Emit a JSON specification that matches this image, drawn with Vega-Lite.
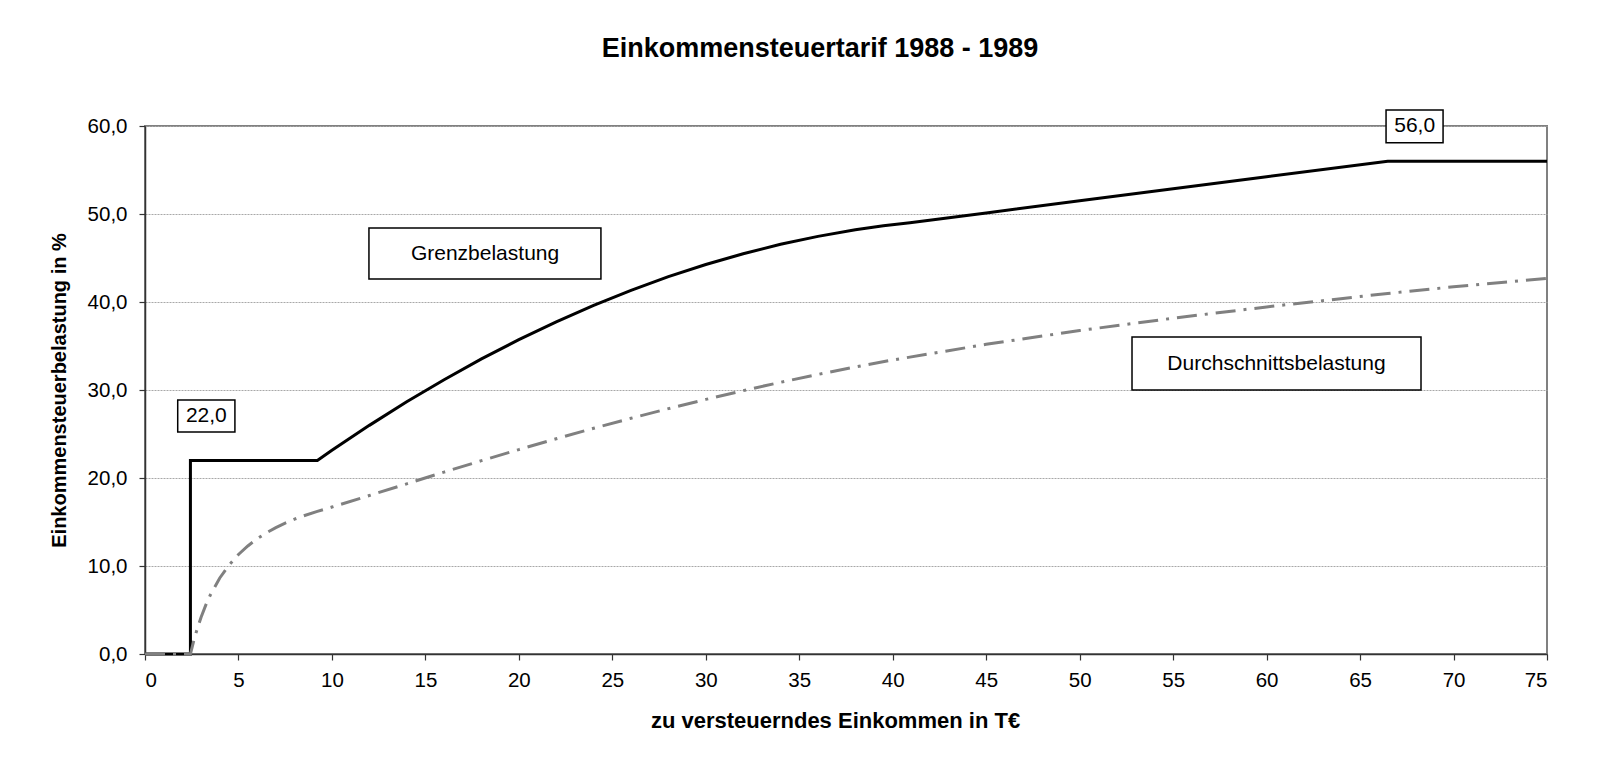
{
  "$schema": "https://vega.github.io/schema/vega-lite/v6.json",
  "autosize": {"type": "none"},
  "padding": {"left": 145, "top": 126, "right": 61, "bottom": 115},
  "width": 1402,
  "height": 528,
  "background": "white",
  "title": {
    "text": "Einkommensteuertarif 1988 - 1989",
    "font": "Liberation Sans",
    "fontSize": 27,
    "fontWeight": "bold",
    "color": "black",
    "anchor": "middle",
    "offset": 46,
    "dx": -26
  },
  "config": {
    "font": "Liberation Sans",
    "locale": {"number": {"decimal": ",", "thousands": ".", "grouping": [3], "currency": ["", " €"]}},
    "view": {"stroke": "#808080", "strokeWidth": 2},
    "axis": {
      "labelFont": "Liberation Sans",
      "labelFontSize": 20.5,
      "labelColor": "black",
      "titleFont": "Liberation Sans",
      "titleFontSize": 21,
      "titleFontWeight": "bold",
      "titleColor": "black",
      "domainColor": "#333333",
      "domainWidth": 1.5,
      "tickColor": "#333333",
      "tickSize": 6,
      "tickWidth": 1.2
    }
  },
  "datasets": {
    "kurven": [
      {"reihe": "Grenzbelastung", "i": 1, "einkommen": 0, "satz": 0},
      {"reihe": "Grenzbelastung", "i": 2, "einkommen": 2.43, "satz": 0},
      {"reihe": "Grenzbelastung", "i": 3, "einkommen": 2.43, "satz": 22.0},
      {"reihe": "Grenzbelastung", "i": 4, "einkommen": 9.22, "satz": 22.0},
      {"reihe": "Grenzbelastung", "i": 5, "einkommen": 10, "satz": 23.15},
      {"reihe": "Grenzbelastung", "i": 6, "einkommen": 12, "satz": 25.98},
      {"reihe": "Grenzbelastung", "i": 7, "einkommen": 14, "satz": 28.66},
      {"reihe": "Grenzbelastung", "i": 8, "einkommen": 16, "satz": 31.17},
      {"reihe": "Grenzbelastung", "i": 9, "einkommen": 18, "satz": 33.53},
      {"reihe": "Grenzbelastung", "i": 10, "einkommen": 20, "satz": 35.72},
      {"reihe": "Grenzbelastung", "i": 11, "einkommen": 22, "satz": 37.75},
      {"reihe": "Grenzbelastung", "i": 12, "einkommen": 24, "satz": 39.62},
      {"reihe": "Grenzbelastung", "i": 13, "einkommen": 26, "satz": 41.33},
      {"reihe": "Grenzbelastung", "i": 14, "einkommen": 28, "satz": 42.88},
      {"reihe": "Grenzbelastung", "i": 15, "einkommen": 30, "satz": 44.26},
      {"reihe": "Grenzbelastung", "i": 16, "einkommen": 32, "satz": 45.49},
      {"reihe": "Grenzbelastung", "i": 17, "einkommen": 34, "satz": 46.56},
      {"reihe": "Grenzbelastung", "i": 18, "einkommen": 36, "satz": 47.46},
      {"reihe": "Grenzbelastung", "i": 19, "einkommen": 38, "satz": 48.21},
      {"reihe": "Grenzbelastung", "i": 20, "einkommen": 39.5, "satz": 48.66},
      {"reihe": "Grenzbelastung", "i": 21, "einkommen": 40.92, "satz": 49.0},
      {"reihe": "Grenzbelastung", "i": 22, "einkommen": 45, "satz": 50.12},
      {"reihe": "Grenzbelastung", "i": 23, "einkommen": 50, "satz": 51.5},
      {"reihe": "Grenzbelastung", "i": 24, "einkommen": 55, "satz": 52.87},
      {"reihe": "Grenzbelastung", "i": 25, "einkommen": 60, "satz": 54.24},
      {"reihe": "Grenzbelastung", "i": 26, "einkommen": 66.48, "satz": 56.0},
      {"reihe": "Grenzbelastung", "i": 27, "einkommen": 75, "satz": 56.0},
      {"reihe": "Durchschnittsbelastung", "i": 1, "einkommen": 0, "satz": 0},
      {"reihe": "Durchschnittsbelastung", "i": 2, "einkommen": 2.43, "satz": 0},
      {"reihe": "Durchschnittsbelastung", "i": 3, "einkommen": 2.6, "satz": 1.44},
      {"reihe": "Durchschnittsbelastung", "i": 4, "einkommen": 2.8, "satz": 2.91},
      {"reihe": "Durchschnittsbelastung", "i": 5, "einkommen": 3, "satz": 4.18},
      {"reihe": "Durchschnittsbelastung", "i": 6, "einkommen": 3.25, "satz": 5.55},
      {"reihe": "Durchschnittsbelastung", "i": 7, "einkommen": 3.5, "satz": 6.73},
      {"reihe": "Durchschnittsbelastung", "i": 8, "einkommen": 4, "satz": 8.64},
      {"reihe": "Durchschnittsbelastung", "i": 9, "einkommen": 4.5, "satz": 10.12},
      {"reihe": "Durchschnittsbelastung", "i": 10, "einkommen": 5, "satz": 11.31},
      {"reihe": "Durchschnittsbelastung", "i": 11, "einkommen": 5.5, "satz": 12.28},
      {"reihe": "Durchschnittsbelastung", "i": 12, "einkommen": 6, "satz": 13.09},
      {"reihe": "Durchschnittsbelastung", "i": 13, "einkommen": 6.5, "satz": 13.78},
      {"reihe": "Durchschnittsbelastung", "i": 14, "einkommen": 7, "satz": 14.36},
      {"reihe": "Durchschnittsbelastung", "i": 15, "einkommen": 7.5, "satz": 14.87},
      {"reihe": "Durchschnittsbelastung", "i": 16, "einkommen": 8, "satz": 15.32},
      {"reihe": "Durchschnittsbelastung", "i": 17, "einkommen": 8.5, "satz": 15.71},
      {"reihe": "Durchschnittsbelastung", "i": 18, "einkommen": 9.22, "satz": 16.2},
      {"reihe": "Durchschnittsbelastung", "i": 19, "einkommen": 10, "satz": 16.7},
      {"reihe": "Durchschnittsbelastung", "i": 20, "einkommen": 12, "satz": 18.01},
      {"reihe": "Durchschnittsbelastung", "i": 21, "einkommen": 14, "satz": 19.34},
      {"reihe": "Durchschnittsbelastung", "i": 22, "einkommen": 16, "satz": 20.67},
      {"reihe": "Durchschnittsbelastung", "i": 23, "einkommen": 18, "satz": 21.97},
      {"reihe": "Durchschnittsbelastung", "i": 24, "einkommen": 20, "satz": 23.23},
      {"reihe": "Durchschnittsbelastung", "i": 25, "einkommen": 22, "satz": 24.46},
      {"reihe": "Durchschnittsbelastung", "i": 26, "einkommen": 24, "satz": 25.65},
      {"reihe": "Durchschnittsbelastung", "i": 27, "einkommen": 26, "satz": 26.79},
      {"reihe": "Durchschnittsbelastung", "i": 28, "einkommen": 28, "satz": 27.88},
      {"reihe": "Durchschnittsbelastung", "i": 29, "einkommen": 30, "satz": 28.93},
      {"reihe": "Durchschnittsbelastung", "i": 30, "einkommen": 32, "satz": 29.93},
      {"reihe": "Durchschnittsbelastung", "i": 31, "einkommen": 34, "satz": 30.88},
      {"reihe": "Durchschnittsbelastung", "i": 32, "einkommen": 36, "satz": 31.77},
      {"reihe": "Durchschnittsbelastung", "i": 33, "einkommen": 38, "satz": 32.62},
      {"reihe": "Durchschnittsbelastung", "i": 34, "einkommen": 40, "satz": 33.41},
      {"reihe": "Durchschnittsbelastung", "i": 35, "einkommen": 45, "satz": 35.19},
      {"reihe": "Durchschnittsbelastung", "i": 36, "einkommen": 50, "satz": 36.76},
      {"reihe": "Durchschnittsbelastung", "i": 37, "einkommen": 55, "satz": 38.16},
      {"reihe": "Durchschnittsbelastung", "i": 38, "einkommen": 60, "satz": 39.44},
      {"reihe": "Durchschnittsbelastung", "i": 39, "einkommen": 66.48, "satz": 40.97},
      {"reihe": "Durchschnittsbelastung", "i": 40, "einkommen": 70, "satz": 41.73},
      {"reihe": "Durchschnittsbelastung", "i": 41, "einkommen": 75, "satz": 42.68}
    ],
    "beschriftung": [
      {"text": "22,0", "x": 3.28, "y": 27.05, "x1": 1.75, "x2": 4.81, "y1": 25.23, "y2": 28.86},
      {"text": "56,0", "x": 67.92, "y": 59.96, "x1": 66.39, "x2": 69.44, "y1": 58.1, "y2": 61.82},
      {"text": "Grenzbelastung", "x": 18.19, "y": 45.51, "x1": 11.98, "x2": 24.39, "y1": 42.61, "y2": 48.41},
      {"text": "Durchschnittsbelastung", "x": 60.53, "y": 33.01, "x1": 52.8, "x2": 68.26, "y1": 30.0, "y2": 36.02}
    ]
  },
  "layer": [
    {
      "data": {"name": "kurven"},
      "transform": [{"filter": "datum.reihe === 'Grenzbelastung'"}],
      "mark": {"type": "line", "color": "black", "strokeWidth": 3, "strokeJoin": "miter"},
      "encoding": {
        "x": {
          "field": "einkommen", "type": "quantitative",
          "scale": {"domain": [0, 75], "nice": false, "zero": true},
          "axis": {
            "title": "zu versteuerndes Einkommen in T€",
            "values": [0, 5, 10, 15, 20, 25, 30, 35, 40, 45, 50, 55, 60, 65, 70, 75],
            "format": "d",
            "grid": false,
            "labelPadding": 10,
            "titlePadding": 20,
            "titleFontSize": 22,
            "titleX": 690
          }
        },
        "y": {
          "field": "satz", "type": "quantitative",
          "scale": {"domain": [0, 60], "nice": false},
          "axis": {
            "title": "Einkommensteuerbelastung in %",
            "values": [0, 10, 20, 30, 40, 50, 60],
            "format": ".1f",
            "grid": true,
            "gridColor": "#a8a8a8",
            "gridDash": [2, 1],
            "gridWidth": 1,
            "labelPadding": 12,
            "titlePadding": 18,
            "titleFontSize": 20
          }
        },
        "order": {"field": "i", "type": "quantitative"}
      }
    },
    {
      "data": {"name": "kurven"},
      "transform": [{"filter": "datum.reihe === 'Durchschnittsbelastung'"}],
      "mark": {"type": "line", "color": "#808080", "strokeWidth": 3, "strokeDash": [20, 8, 3, 8]},
      "encoding": {
        "x": {"field": "einkommen", "type": "quantitative"},
        "y": {"field": "satz", "type": "quantitative"},
        "order": {"field": "i", "type": "quantitative"}
      }
    },
    {
      "data": {"name": "beschriftung"},
      "mark": {"type": "rect", "fill": "white", "stroke": "black", "strokeWidth": 1.5},
      "encoding": {
        "x": {"field": "x1", "type": "quantitative"},
        "x2": {"field": "x2"},
        "y": {"field": "y1", "type": "quantitative"},
        "y2": {"field": "y2"}
      }
    },
    {
      "data": {"name": "beschriftung"},
      "mark": {"type": "text", "font": "Liberation Sans", "fontSize": 21, "color": "black", "align": "center", "baseline": "middle"},
      "encoding": {
        "x": {"field": "x", "type": "quantitative"},
        "y": {"field": "y", "type": "quantitative"},
        "text": {"field": "text"}
      }
    }
  ]
}
